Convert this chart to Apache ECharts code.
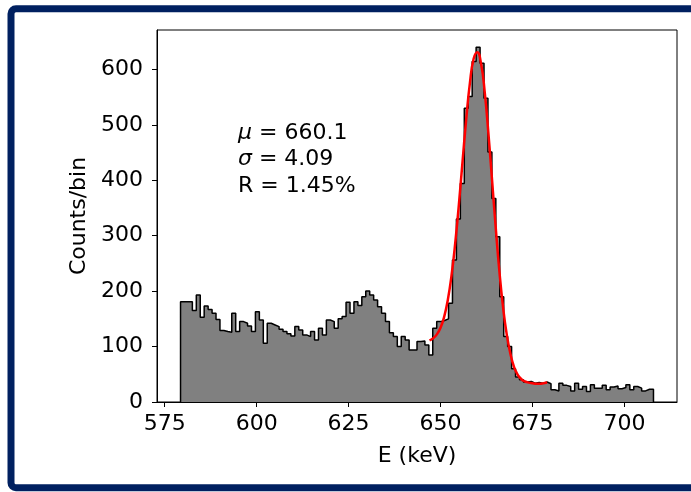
<!DOCTYPE html>
<html>
<head>
<meta charset="utf-8">
<script src="https://cdn.jsdelivr.net/npm/echarts@6/dist/echarts.min.js"></script>
<style>
  html, body { margin: 0; padding: 0; background: #ffffff; }
  #chart { width: 691px; height: 492px; }
</style>
</head>
<body>
<div id="chart"></div>
<script>
// Energy spectrum: 120 bins starting at 579.3 keV
const binStart = 579.3;
const binWidth = 1.0717;
const counts = [
  181, 181, 181, 165, 193, 153, 173, 167, 160, 149,
  129, 127, 126, 160, 127, 145, 142, 137, 127, 163,
  148, 106, 142, 139, 136, 131, 127, 123, 119, 136,
  130, 121, 118, 127, 112, 133, 121, 148, 145, 133,
  150, 154, 180, 160, 181, 174, 190, 200, 193, 184,
  172, 160, 145, 125, 118, 100, 118, 112, 94, 94,
  109, 110, 103, 85, 133, 145, 147, 150, 178, 256,
  330, 394, 530, 551, 614, 640, 611, 548, 451, 367,
  298, 190, 118, 100, 60, 45, 40, 36, 37, 34,
  35, 34, 36, 33, 22, 20, 34, 30, 28, 20,
  34, 23, 28, 19, 31, 25, 25, 30, 22, 27,
  29, 24, 26, 31, 22, 28, 25, 20, 23, 23
];

// Fitted photopeak curve
const fitEnergy = [
  647, 648, 649, 650, 651, 652, 653, 654, 655, 656, 657,
  658, 659, 660, 661, 662, 663, 664, 665, 666, 667, 668,
  669, 670, 671, 672, 673, 674, 675, 676, 677, 678, 679
];
const fitCounts = [
  111, 115, 122, 134, 154, 185, 229, 287, 357, 435, 511,
  576, 619, 631, 611, 560, 486, 401, 315, 236, 171, 122,
  87, 63, 49, 41, 37, 35, 34, 33, 33, 34, 35
];

const xTicks = [575, 600, 625, 650, 675, 700];
const yTicks = [0, 100, 200, 300, 400, 500, 600];
const fitLabels = ['{it|μ} = 660.1', '{it|σ} = 4.09', 'R = 1.45%'];

// Step outline of the filled histogram
const outline = [[binStart, 0]];
counts.forEach((c, i) => outline.push([binStart + i * binWidth, c]));
const binEnd = binStart + counts.length * binWidth;
outline.push([binEnd, counts[counts.length - 1]]);
outline.push([binEnd, 0]);

const fitLine = fitEnergy.map((e, i) => [e, fitCounts[i]]);

const FONT = 'DejaVu Sans';
const chart = echarts.init(document.getElementById('chart'), null, { renderer: 'canvas' });

chart.setOption({
  animation: false,
  backgroundColor: '#ffffff',
  grid: {
    left: 157, top: 30, right: 14, bottom: 90,
    show: true, borderColor: '#000000', borderWidth: 1, backgroundColor: 'transparent'
  },
  xAxis: {
    type: 'value',
    min: 572.9, max: 714.3,
    name: 'E (keV)', nameLocation: 'middle', nameGap: 43,
    nameTextStyle: { fontFamily: FONT, fontSize: 22, color: '#000000' },
    axisLine: { show: true, onZero: false, lineStyle: { color: '#000000', width: 1 } },
    axisTick: { show: true, inside: false, length: 5, customValues: xTicks, lineStyle: { color: '#000000', width: 1 } },
    axisLabel: { customValues: xTicks, margin: 11, fontFamily: FONT, fontSize: 22, color: '#000000' },
    splitLine: { show: false }
  },
  yAxis: {
    type: 'value',
    min: 0, max: 671,
    name: 'Counts/bin', nameLocation: 'middle', nameGap: 66,
    nameTextStyle: { fontFamily: FONT, fontSize: 22, color: '#000000' },
    axisLine: { show: true, lineStyle: { color: '#000000', width: 1 } },
    axisTick: { show: true, inside: false, length: 5, customValues: yTicks, lineStyle: { color: '#000000', width: 1 } },
    axisLabel: { customValues: yTicks, margin: 14, fontFamily: FONT, fontSize: 22, color: '#000000' },
    splitLine: { show: false }
  },
  series: [
    {
      type: 'line',
      data: outline,
      step: 'end',
      symbol: 'none',
      lineStyle: { color: '#000000', width: 1.5 },
      areaStyle: { color: '#808080', opacity: 1 },
      z: 2
    },
    {
      type: 'line',
      data: fitLine,
      smooth: true,
      symbol: 'none',
      lineStyle: { color: '#ff0000', width: 2.5 },
      z: 3
    }
  ],
  graphic: [
    {
      type: 'text',
      left: 238, top: 120,
      z: 10,
      style: {
        text: fitLabels.join('\n'),
        fontFamily: FONT, fontSize: 22, lineHeight: 26.5, fill: '#000000',
        rich: {
          it: { fontFamily: FONT, fontSize: 22, lineHeight: 26.5, fontStyle: 'italic', fill: '#000000' }
        }
      }
    },
    {
      type: 'rect',
      z: 20,
      shape: { x: 11, y: 8.8, width: 700, height: 479, r: 5 },
      style: { fill: 'none', stroke: '#002060', lineWidth: 7 }
    }
  ]
});
</script>
</body>
</html>
